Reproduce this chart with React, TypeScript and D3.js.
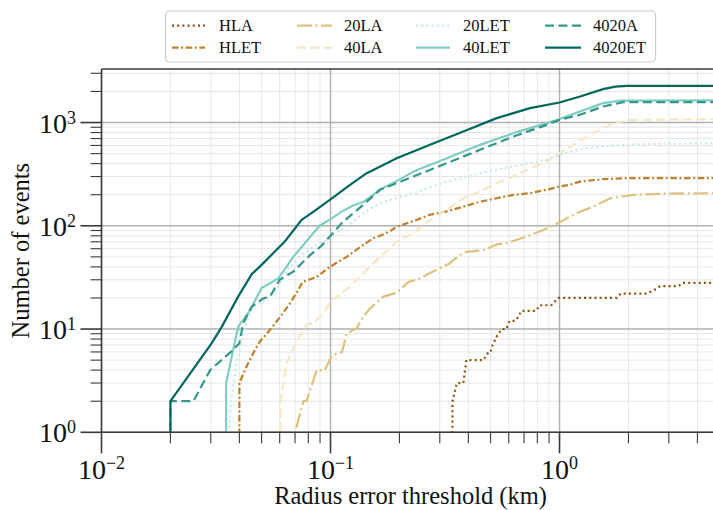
import React from "react";
import * as d3 from "d3";

// Cumulative number of events located within a given radius error (km).
// Each series: [threshold km, number of events]; a count of 0 marks where the curve starts.
const HLA: [number, number][] = [
  [0.335, 0], [0.341, 2], [0.356, 3], [0.38, 3], [0.392, 5], [0.465, 5], [0.49, 6], [0.5, 6],
  [0.51, 7], [0.54, 9], [0.56, 10], [0.586, 10], [0.605, 12], [0.638, 12], [0.66, 13],
  [0.68, 15], [0.79, 15], [0.82, 17], [0.92, 17], [0.99, 20], [1.78, 20], [1.85, 22],
  [2.4, 22], [2.6, 24], [2.75, 26], [3.3, 26], [3.45, 28], [5, 28],
];
const HLET: [number, number][] = [
  [0.0398, 0], [0.04, 3], [0.0429, 4.3], [0.0459, 5.8], [0.049, 7.5], [0.0544, 9.8],
  [0.0612, 13.7], [0.0666, 17.8], [0.0709, 22.2], [0.0755, 28.5], [0.0871, 32],
  [0.0962, 38], [0.103, 42], [0.1177, 50], [0.126, 56], [0.1345, 62], [0.154, 76],
  [0.1645, 80], [0.181, 88], [0.1945, 98], [0.23, 111], [0.272, 128], [0.322, 138],
  [0.38, 153], [0.45, 171], [0.532, 185], [0.628, 199], [0.743, 207], [0.879, 223],
  [1.0, 240], [1.11, 250], [1.227, 268], [1.55, 283], [1.96, 289], [5, 290],
];
const LA20: [number, number][] = [
  [0.0695, 0], [0.07, 1], [0.0761, 2], [0.0785, 2], [0.0871, 4], [0.0944, 4], [0.1014, 5.5],
  [0.1122, 6], [0.1177, 9], [0.13, 10.2], [0.139, 13.2], [0.149, 15.9], [0.17, 20.6],
  [0.1945, 22.5], [0.22, 28.8], [0.238, 30], [0.28, 36], [0.33, 43], [0.366, 52],
  [0.392, 56], [0.465, 58], [0.532, 66], [0.587, 68], [0.71, 78], [0.85, 91], [1.0, 108],
  [1.18, 132], [1.4, 153], [1.67, 185], [2.1, 199], [2.9, 205], [5, 207],
];
const LA40: [number, number][] = [
  [0.0598, 0], [0.0605, 2], [0.0644, 4.7], [0.0699, 7], [0.0748, 9.1], [0.0785, 11],
  [0.0843, 11.4], [0.093, 14.2], [0.1, 18.5], [0.1217, 25.8], [0.139, 34.7], [0.1645, 50],
  [0.1945, 70], [0.23, 85], [0.272, 114], [0.322, 143], [0.38, 185], [0.45, 214],
  [0.532, 259], [0.628, 300], [0.743, 360], [0.836, 400], [0.92, 450], [1.04, 530],
  [1.15, 608], [1.4, 789], [1.72, 986], [2.04, 1062], [5, 1079],
];
const LET20: [number, number][] = [
  [0.0355, 0], [0.036, 1], [0.0368, 2], [0.0378, 3], [0.0388, 4.7], [0.0408, 7.3],
  [0.0429, 11.4], [0.0459, 16.5], [0.0525, 19], [0.058, 24], [0.0644, 37], [0.0735, 50],
  [0.0843, 63], [0.0962, 73], [0.11, 91], [0.1177, 98], [0.139, 132], [0.1645, 166],
  [0.23, 207], [0.322, 268], [0.45, 323], [0.628, 375], [0.879, 435], [1.0, 486],
  [1.227, 552], [1.5, 585], [1.96, 608], [3, 625], [5, 630],
];
const LET40: [number, number][] = [
  [0.0348, 0], [0.035, 3], [0.0395, 10.5], [0.0446, 15.3], [0.05, 25], [0.0544, 27.8],
  [0.0592, 31], [0.0688, 50], [0.0814, 78], [0.0897, 100], [0.1, 116], [0.1137, 140],
  [0.126, 158], [0.139, 170], [0.154, 200], [0.1645, 225], [0.2, 280], [0.23, 335],
  [0.322, 452], [0.45, 608], [0.628, 789], [0.879, 986], [1.0, 1079], [1.227, 1278],
  [1.55, 1541], [1.85, 1633], [5, 1640],
];
const A4020: [number, number][] = [
  [0.0198, 0], [0.02, 2], [0.0252, 2], [0.0298, 4], [0.0376, 6.3], [0.04, 7.3],
  [0.0416, 11.4], [0.0453, 16.5], [0.0509, 19.8], [0.0544, 20.6], [0.06, 30], [0.0688, 36],
  [0.0814, 52], [0.0906, 63], [0.1, 80], [0.1137, 110], [0.1345, 150], [0.1645, 223],
  [0.23, 300], [0.322, 404], [0.45, 544], [0.628, 731], [0.879, 950], [1.0, 1062],
  [1.227, 1188], [1.55, 1430], [1.9, 1577], [5, 1580],
];
const ET4020: [number, number][] = [
  [0.0198, 0], [0.02, 2], [0.0303, 7.3], [0.0335, 10.5], [0.0395, 20.6], [0.0453, 34],
  [0.049, 40], [0.063, 70], [0.0748, 114], [0.0843, 137], [0.1, 180], [0.1217, 249],
  [0.1439, 323], [0.1945, 452], [0.272, 608], [0.38, 818], [0.532, 1103], [0.743, 1378],
  [1.0, 1563], [1.23, 1786], [1.55, 2106], [1.75, 2230], [1.96, 2268], [5, 2270],
];

const seriesNames = ["HLA", "HLET", "20LA", "40LA", "20LET", "40LET", "4020A", "4020ET"];
const seriesData = [HLA, HLET, LA20, LA40, LET20, LET40, A4020, ET4020];
const seriesColors = ["#8c510a", "#bf812d", "#dfc27d", "#f6e8c3", "#c7eae5", "#80cdc1", "#35978f", "#01665e"];
const seriesDash = ["2 3.2", "6.5 2.6 2 2.6", "15 3.5 2 3.5", "9 4.5", "2 3.2", "", "9 4.5", ""];

const xMajor = [0.01, 0.1, 1];
const xMajorExp = ["\u22122", "\u22121", "0"];
const yMajor = [1, 10, 100, 1000];
const yMajorExp = ["0", "1", "2", "3"];

const SERIF = "'Liberation Serif', 'DejaVu Serif', serif";

export default function App() {
  const plotL = 101.5, plotR = 719.6, plotT = 69, plotB = 432.3;
  const x = d3.scaleLog().domain([0.01, 5]).range([plotL, plotR]);
  const y = d3.scaleLog().domain([1, 3300]).range([plotB, plotT]);

  const xMinor: number[] = [];
  for (const k of [-2, -1, 0]) for (let m = 2; m <= 9; m++) {
    const v = m * Math.pow(10, k);
    if (v < 5) xMinor.push(v);
  }
  const yMinor: number[] = [];
  for (const k of [0, 1, 2, 3]) for (let m = 2; m <= 9; m++) {
    const v = m * Math.pow(10, k);
    if (v < 3300) yMinor.push(v);
  }

  // non-positive counts are clipped far below the axis, as a log axis does
  const line = d3.line<[number, number]>()
    .x((d) => x(d[0]))
    .y((d) => y(Math.max(d[1], 1e-6)));

  const spine = "#3a3a3a";
  const majorLen = 21, minorLen = 11;
  const txt = { fontFamily: SERIF, fill: "#111" };

  // legend layout: 4 columns x 2 rows, filled column-wise
  const legCols = [172, 297, 416, 545];
  const legLineLen = [33, 35, 34, 36];
  const legTextX = [219, 344, 463, 593];
  const legRows = [25.7, 47.7];

  return (
    <svg width={713} height={510} style={{ display: "block", position: "absolute", left: 0, top: 0 }}>
      <defs>
        <clipPath id="plotArea">
          <rect x={plotL} y={plotT} width={plotR - plotL} height={plotB - plotT} />
        </clipPath>
      </defs>
      <rect x={0} y={0} width={713} height={510} fill="#fff" />

      {/* grid */}
      <g clipPath="url(#plotArea)">
        {xMinor.map((v) => (
          <line key={"gx" + v} x1={x(v)} x2={x(v)} y1={plotT} y2={plotB} stroke="#e6e6e6" strokeWidth={1} />
        ))}
        {yMinor.map((v) => (
          <line key={"gy" + v} x1={plotL} x2={plotR} y1={y(v)} y2={y(v)} stroke="#e6e6e6" strokeWidth={1} />
        ))}
        {xMajor.map((v) => (
          <line key={"GX" + v} x1={x(v)} x2={x(v)} y1={plotT} y2={plotB} stroke="#b0b0b0" strokeWidth={1.4} />
        ))}
        {yMajor.map((v) => (
          <line key={"GY" + v} x1={plotL} x2={plotR} y1={y(v)} y2={y(v)} stroke="#b0b0b0" strokeWidth={1.4} />
        ))}
      </g>

      {/* series */}
      <g clipPath="url(#plotArea)" fill="none">
        {seriesData.map((d, i) => (
          <path
            key={seriesNames[i]}
            d={line(d) || ""}
            stroke={seriesColors[i]}
            strokeWidth={2.2}
            strokeDasharray={seriesDash[i] || undefined}
            strokeLinecap="butt"
            strokeLinejoin="round"
          />
        ))}
      </g>

      {/* spines */}
      <line x1={plotL} x2={plotL} y1={plotT} y2={plotB} stroke={spine} strokeWidth={1.6} />
      <line x1={plotL} x2={713} y1={plotB} y2={plotB} stroke={spine} strokeWidth={1.6} />
      <line x1={plotL} x2={713} y1={plotT} y2={plotT} stroke={spine} strokeWidth={1.6} />

      {/* x ticks */}
      {xMinor.map((v) => (
        <line key={"tx" + v} x1={x(v)} x2={x(v)} y1={plotB} y2={plotB + minorLen} stroke={spine} strokeWidth={1.1} />
      ))}
      {xMajor.map((v, i) => (
        <g key={"TX" + v}>
          <line x1={x(v)} x2={x(v)} y1={plotB} y2={plotB + majorLen} stroke={spine} strokeWidth={1.6} />
          <text x={x(v)} y={479} textAnchor="middle" fontSize={28} style={txt}>
            10<tspan fontSize={18} dy={-10}>{xMajorExp[i]}</tspan>
          </text>
        </g>
      ))}

      {/* y ticks */}
      {yMinor.map((v) => (
        <line key={"ty" + v} x1={plotL - minorLen} x2={plotL} y1={y(v)} y2={y(v)} stroke={spine} strokeWidth={1.1} />
      ))}
      {yMajor.map((v, i) => (
        <g key={"TY" + v}>
          <line x1={plotL - majorLen} x2={plotL} y1={y(v)} y2={y(v)} stroke={spine} strokeWidth={1.6} />
          <text x={76} y={y(v) + 10} textAnchor="end" fontSize={28} style={txt}>
            10<tspan fontSize={18} dy={-9}>{yMajorExp[i]}</tspan>
          </text>
        </g>
      ))}

      {/* axis titles */}
      <text x={(plotL + plotR) / 2} y={504} textAnchor="middle" fontSize={24.5} style={txt}>
        Radius error threshold (km)
      </text>
      <text
        transform={`translate(29, ${(plotT + plotB) / 2}) rotate(-90)`}
        textAnchor="middle"
        fontSize={24.5}
        style={txt}
      >
        Number of events
      </text>

      {/* legend */}
      <rect x={165.5} y={11} width={490} height={51} rx={4} ry={4} fill="#fff" stroke="#cccccc" strokeWidth={1.2} />
      {seriesNames.map((name, i) => {
        const col = Math.floor(i / 2);
        const row = i % 2;
        const ly = legRows[row];
        return (
          <g key={"leg" + name}>
            <line
              x1={legCols[col]}
              x2={legCols[col] + legLineLen[col]}
              y1={ly}
              y2={ly}
              stroke={seriesColors[i]}
              strokeWidth={2.2}
              strokeDasharray={seriesDash[i] || undefined}
            />
            <text x={legTextX[col]} y={ly + 5.6} fontSize={16.5} style={txt}>
              {name}
            </text>
          </g>
        );
      })}
    </svg>
  );
}
